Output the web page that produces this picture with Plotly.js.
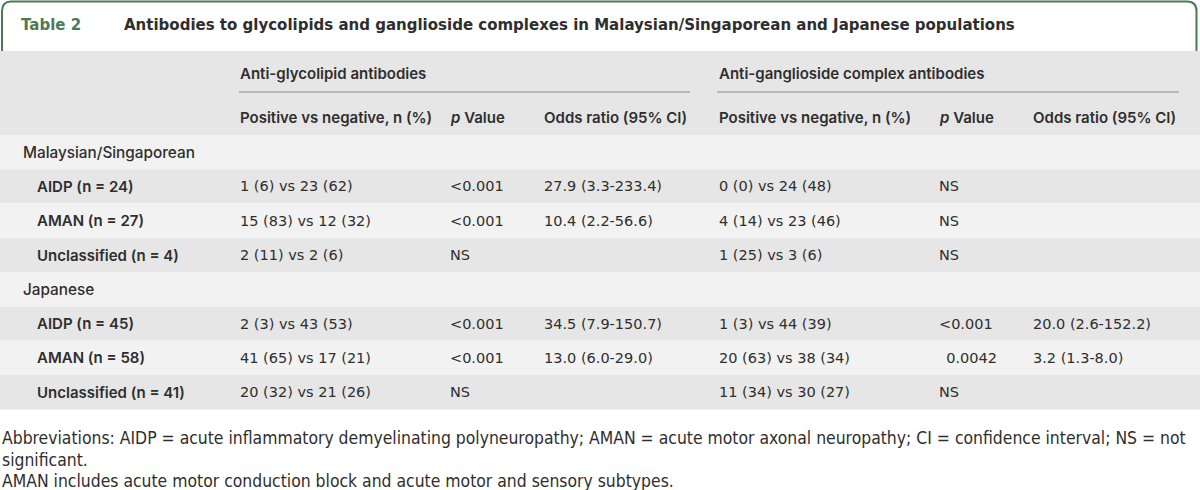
<!DOCTYPE html>
<html>
<head>
<meta charset="utf-8">
<script src="https://cdn.plot.ly/plotly-3.0.1.min.js"></script>
<style>html,body{margin:0;padding:0;background:#fff;}#chart{width:1200px;height:490px;}</style>
</head>
<body>
<div id="chart"></div>
<script>
// ---- data ----
const tableLabel = "Table 2";
const tableTitle = "Antibodies to glycolipids and ganglioside complexes in Malaysian/Singaporean and Japanese populations";
const groupHeaders = ["Anti-glycolipid antibodies", "Anti-ganglioside complex antibodies"];
const columnHeaders = ["Positive vs negative, n (%)", "<i>p</i> Value", "Odds ratio (95% CI)",
                       "Positive vs negative, n (%)", "<i>p</i> Value", "Odds ratio (95% CI)"];
const rowLabels = ["Malaysian/Singaporean", "AIDP (n = 24)", "AMAN (n = 27)", "Unclassified (n = 4)",
                   "Japanese", "AIDP (n = 45)", "AMAN (n = 58)", "Unclassified (n = 41)"];
const rowIsGroup = [true, false, false, false, true, false, false, false];
const glyPosNeg = ["", "1 (6) vs 23 (62)", "15 (83) vs 12 (32)", "2 (11) vs 2 (6)",
                   "", "2 (3) vs 43 (53)", "41 (65) vs 17 (21)", "20 (32) vs 21 (26)"];
const glyP = ["", "<0.001", "<0.001", "NS", "", "<0.001", "<0.001", "NS"];
const glyOR = ["", "27.9 (3.3-233.4)", "10.4 (2.2-56.6)", "", "", "34.5 (7.9-150.7)", "13.0 (6.0-29.0)", ""];
const gcPosNeg = ["", "0 (0) vs 24 (48)", "4 (14) vs 23 (46)", "1 (25) vs 3 (6)",
                  "", "1 (3) vs 44 (39)", "20 (63) vs 38 (34)", "11 (34) vs 30 (27)"];
const gcP = ["", "NS", "NS", "NS", "", "<0.001", "0.0042", "NS"];
const gcOR = ["", "", "", "", "", "20.0 (2.6-152.2)", "3.2 (1.3-8.0)", ""];
const footnotes = [
  "Abbreviations: AIDP = acute inflammatory demyelinating polyneuropathy; AMAN = acute motor axonal neuropathy; CI = confidence interval; NS = not",
  "significant.",
  "AMAN includes acute motor conduction block and acute motor and sensory subtypes."
];

// ---- layout constants ----
const W = 1200, H = 490;
const green = "#4b7a54";
const txt = "#2e2e2e";
const font = "DejaVu Sans, sans-serif";
const fs = 14.5;
const headFont = {family: "Inter, DejaVu Sans, sans-serif", size: 15, color: txt, weight: 600};
const headTop = 51, bodyTop = 135, rowH = 34.3;
const colX = [239, 449, 543, 718, 938, 1032];
const labelX = 22, subLabelX = 36;
const dataCols = [glyPosNeg, glyP, glyOR, gcPosNeg, gcP, gcOR];

const shapes = [];
const ann = [];

// frame
shapes.push({type: "path", xref: "x", yref: "y",
  path: `M 2 ${headTop} L 2 11 Q 2 1.5 11 1.5 L 1187 1.5 Q 1196.5 1.5 1196.5 11 L 1196.5 ${headTop}`,
  line: {color: green, width: 2}});
// header band
shapes.push({type: "rect", xref: "x", yref: "y", x0: 0, x1: W, y0: headTop, y1: bodyTop,
  fillcolor: "#e6e6e6", line: {width: 0}, layer: "below"});
// body bands
rowLabels.forEach((r, i) => {
  shapes.push({type: "rect", xref: "x", yref: "y", x0: 0, x1: W,
    y0: bodyTop + i * rowH, y1: bodyTop + (i + 1) * rowH,
    fillcolor: i % 2 === 0 ? "#f2f2f2" : "#e6e6e6", line: {width: 0}, layer: "below"});
});
// group rules
shapes.push({type: "line", xref: "x", yref: "y", x0: 239, x1: 690, y0: 92, y1: 92, line: {color: "#8a8a8a", width: 1}});
shapes.push({type: "line", xref: "x", yref: "y", x0: 717, x1: 1179, y0: 92, y1: 92, line: {color: "#8a8a8a", width: 1}});

function A(x, y, text, f) {
  ann.push({xref: "x", yref: "y", x: x, y: y, text: text, showarrow: false,
    xanchor: "left", yanchor: "middle", borderpad: 0,
    font: f || {family: font, size: fs, color: txt}});
}
// title
A(20, 25, tableLabel, {family: font, size: 15, color: green, weight: 700});
A(123, 25, tableTitle, {family: font, size: 15, color: txt, weight: 700});
// headers
A(colX[0], 73, groupHeaders[0], headFont);
A(colX[3], 73, groupHeaders[1], headFont);
columnHeaders.forEach((h, j) => A(colX[j], 117, h, headFont));
// body
function fmt(v) {
  if (v.startsWith("<")) return "&lt;" + v.slice(1);
  if (/^[0-9.]+$/.test(v)) return "\u2002" + v;
  return v;
}
rowLabels.forEach((r, i) => {
  const y = bodyTop + (i + 0.5) * rowH;
  if (rowIsGroup[i]) A(labelX, y, r, {family: "Inter, DejaVu Sans, sans-serif", size: 15.3, color: txt, weight: 500});
  else A(subLabelX, y, r, headFont);
  dataCols.forEach((col, j) => { if (col[i]) A(colX[j], y, fmt(col[i])); });
});
// footnotes
const footY = [438, 460, 481];
footnotes.forEach((f, k) => A(1, footY[k], f, {family: "DejaVu Sans Condensed, DejaVu Sans, sans-serif", size: 17.4, color: txt, stretch: "condensed"}));

Plotly.newPlot("chart", [{type: "scatter", x: [], y: [], mode: "markers", hoverinfo: "skip"}], {
  width: W, height: H, margin: {l: 0, r: 0, t: 0, b: 0},
  paper_bgcolor: "#ffffff", plot_bgcolor: "#ffffff",
  xaxis: {range: [0, W], visible: false, fixedrange: true},
  yaxis: {range: [H, 0], visible: false, fixedrange: true},
  showlegend: false, shapes: shapes, annotations: ann
}, {staticPlot: true, displayModeBar: false});
</script>
</body>
</html>
